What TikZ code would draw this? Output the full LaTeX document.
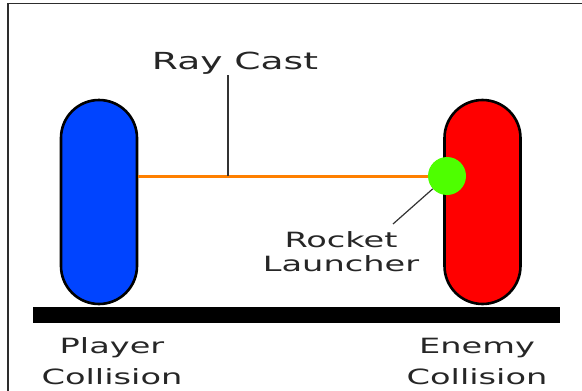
\documentclass[tikz,border=0pt]{standalone}
\usepackage{fontspec}
\newfontfamily\hudfont[FakeStretch=1.6]{DejaVu Sans}
\definecolor{plB}{RGB}{0,68,255}
\definecolor{enR}{RGB}{255,0,0}
\definecolor{rkG}{RGB}{78,255,0}
\definecolor{rayO}{RGB}{255,128,0}
\definecolor{frameK}{RGB}{45,45,45}
\begin{document}
\begin{tikzpicture}[x=1pt,y=-1pt,
  capsule/.style={draw=black,line width=2.6pt,minimum width=76pt,minimum height=204pt,rounded corners=38pt,inner sep=0pt},
  lbl/.style={font=\hudfont\fontsize{21}{31}\selectfont,text=black!85,align=center,inner sep=1pt}]
\useasboundingbox (0,0) rectangle (582,391);
\draw[frameK,line width=1.5pt] (8,391)--(8,3.5)--(582,3.5);
\node[fill=black,minimum width=527pt,minimum height=16pt,inner sep=0pt] (ground) at (296.5,315) {};
\node[capsule,fill=plB] (player) at (99,202) {};
\node[capsule,fill=enR] (enemy) at (482.5,202) {};
\node[circle,fill=rkG,minimum size=38pt,inner sep=0pt] (launcher) at (447,176) {};
\coordinate (hit) at (228,176);
\coordinate (tail) at (393,224);
\draw[rayO,line width=3pt] (player.east |- hit)--(launcher.west);
\node[lbl,font=\hudfont\fontsize{23.5}{28}\selectfont] (raycast) at (235,63) {Ray Cast};
\node[lbl,font=\hudfont\fontsize{21}{24}\selectfont] (rocket) at (341,252) {Rocket\\Launcher};
\node[lbl] (plbl) at (112,361) {Player\\Collision};
\node[lbl] (elbl) at (477,361) {Enemy\\Collision};
\draw[black!80,line width=1.2pt] (hit |- raycast.south)--(hit);
\draw[black!80,line width=1.2pt] (tail)--(launcher.222);
\end{tikzpicture}
\end{document}
